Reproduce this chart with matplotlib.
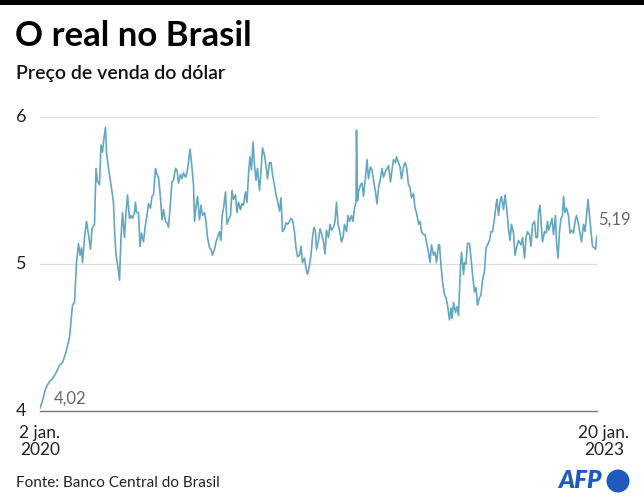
import matplotlib
matplotlib.use('Agg')
import matplotlib.pyplot as plt
import matplotlib.patches as mpatches
import matplotlib.transforms as mtransforms
import matplotlib.dates as mdates
import pandas as pd

plt.rcParams['font.family'] = ['Lato', 'DejaVu Sans']

# dollar sale price in reais
start = pd.Timestamp('2020-01-02')
end = pd.Timestamp('2023-01-20')

days = [0, 5, 12, 19, 25, 32, 39, 45, 52, 59, 62, 65, 69, 71, 73, 77, 80, 83, 85, 89,
        93, 97, 101, 104, 109, 112, 115, 119, 122, 125, 127, 131, 133, 137, 142, 147, 149, 152, 155, 159,
        162, 165, 169, 172, 175, 179, 182, 185, 189, 191, 193, 197, 200, 203, 207, 211, 214, 217, 221, 224,
        227, 231, 234, 237, 241, 244, 247, 251, 254, 257, 261, 264, 267, 271, 274, 277, 281, 284, 287, 291,
        294, 297, 300, 303, 307, 309, 312, 315, 319, 322, 325, 329, 332, 335, 339, 342, 345, 349, 352, 355,
        359, 362, 364, 367, 371, 374, 377, 381, 384, 387, 391, 394, 397, 401, 404, 407, 411, 414, 417, 420,
        423, 426, 429, 432, 435, 439, 442, 445, 449, 452, 455, 459, 462, 465, 469, 472, 475, 479, 482, 485,
        489, 492, 495, 499, 502, 505, 509, 512, 515, 519, 522, 525, 529, 532, 535, 539, 542, 545, 548, 551,
        553, 557, 560, 563, 567, 570, 573, 577, 580, 583, 587, 590, 593, 596, 599, 603, 606, 609, 613, 616,
        619, 623, 626, 629, 632, 633, 635, 637, 641, 644, 647, 651, 654, 657, 661, 664, 667, 671, 674, 677,
        681, 684, 687, 691, 694, 697, 701, 704, 707, 711, 713, 717, 720, 723, 727, 730, 733, 737, 740, 743,
        747, 750, 753, 757, 760, 763, 767, 770, 773, 777, 780, 783, 787, 790, 793, 797, 799, 802, 805, 809,
        812, 815, 819, 822, 824, 827, 831, 834, 837, 841, 843, 847, 849, 852, 855, 859, 862, 865, 869, 872,
        875, 879, 882, 885, 889, 892, 895, 899, 902, 905, 909, 912, 914, 917, 920, 923, 927, 930, 933, 937,
        940, 943, 947, 950, 953, 957, 962, 965, 969, 972, 975, 979, 982, 985, 989, 992, 995, 997, 1000, 1003,
        1005, 1009, 1012, 1015, 1017, 1021, 1024, 1027, 1031, 1033, 1036, 1039, 1042, 1045, 1047, 1050, 1053, 1057, 1060, 1063,
        1067, 1070, 1073, 1077, 1080, 1083, 1087, 1090, 1093, 1096, 1099, 1102, 1105, 1109, 1111, 1114]

usd_brl = [4.02, 4.07, 4.16, 4.20, 4.22, 4.26, 4.31, 4.33, 4.40, 4.50, 4.61, 4.72, 4.74, 4.88, 5.01, 5.14, 5.06, 5.11, 5.01, 5.18,
           5.29, 5.20, 5.10, 5.24, 5.27, 5.65, 5.56, 5.54, 5.81, 5.76, 5.83, 5.93, 5.76, 5.65, 5.54, 5.42, 5.24, 5.06, 5.00, 4.89,
           5.18, 5.35, 5.18, 5.35, 5.47, 5.31, 5.33, 5.31, 5.35, 5.42, 5.35, 5.35, 5.12, 5.21, 5.15, 5.27, 5.33, 5.41, 5.38, 5.46,
           5.47, 5.65, 5.61, 5.59, 5.45, 5.30, 5.37, 5.29, 5.28, 5.25, 5.42, 5.56, 5.57, 5.65, 5.64, 5.55, 5.61, 5.58, 5.62, 5.59,
           5.62, 5.69, 5.78, 5.69, 5.54, 5.29, 5.39, 5.46, 5.30, 5.40, 5.33, 5.35, 5.29, 5.18, 5.11, 5.10, 5.06, 5.10, 5.15, 5.18,
           5.22, 5.16, 5.32, 5.38, 5.49, 5.27, 5.30, 5.33, 5.50, 5.44, 5.47, 5.35, 5.42, 5.37, 5.41, 5.40, 5.49, 5.42, 5.61, 5.73,
           5.64, 5.83, 5.67, 5.57, 5.65, 5.50, 5.63, 5.79, 5.74, 5.67, 5.58, 5.69, 5.69, 5.61, 5.53, 5.47, 5.43, 5.36, 5.45, 5.22,
           5.24, 5.28, 5.27, 5.29, 5.31, 5.30, 5.22, 5.11, 5.05, 5.06, 5.12, 5.01, 5.04, 4.97, 4.93, 4.99, 5.06, 5.18, 5.25, 5.22,
           5.10, 5.16, 5.24, 5.21, 5.15, 5.07, 5.23, 5.18, 5.27, 5.23, 5.25, 5.29, 5.42, 5.27, 5.23, 5.15, 5.18, 5.27, 5.22, 5.33,
           5.29, 5.33, 5.29, 5.38, 5.42, 5.91, 5.43, 5.49, 5.54, 5.55, 5.46, 5.59, 5.71, 5.58, 5.66, 5.64, 5.57, 5.49, 5.41, 5.52,
           5.58, 5.65, 5.59, 5.63, 5.65, 5.67, 5.56, 5.64, 5.71, 5.69, 5.73, 5.69, 5.66, 5.58, 5.66, 5.69, 5.66, 5.54, 5.52, 5.45,
           5.48, 5.38, 5.35, 5.27, 5.29, 5.22, 5.20, 5.20, 5.15, 5.08, 5.01, 5.13, 5.06, 5.08, 5.01, 5.13, 5.13, 4.99, 4.88, 4.79,
           4.77, 4.72, 4.62, 4.70, 4.63, 4.74, 4.67, 4.71, 4.65, 4.99, 5.08, 4.93, 5.01, 5.00, 5.14, 5.14, 5.04, 4.93, 4.81, 4.84,
           4.72, 4.77, 4.79, 4.89, 4.95, 5.11, 5.13, 5.16, 5.22, 5.22, 5.31, 5.40, 5.44, 5.33, 5.42, 5.46, 5.37, 5.47, 5.39, 5.24,
           5.16, 5.27, 5.21, 5.06, 5.11, 5.16, 5.13, 5.18, 5.04, 5.18, 5.22, 5.20, 5.12, 5.27, 5.29, 5.18, 5.18, 5.35, 5.40, 5.24,
           5.15, 5.22, 5.21, 5.29, 5.23, 5.27, 5.31, 5.20, 5.33, 5.15, 5.04, 5.22, 5.31, 5.33, 5.46, 5.35, 5.38, 5.33, 5.21, 5.23,
           5.21, 5.29, 5.33, 5.27, 5.21, 5.15, 5.27, 5.22, 5.33, 5.44, 5.33, 5.22, 5.12, 5.11, 5.10, 5.19]

dates = start + pd.to_timedelta(days, unit='D')

fig = plt.figure(figsize=(6.44, 5.0), dpi=100)
ax = fig.add_axes([40 / 644, 1 - 411 / 500, 557 / 644, 294 / 500])

ax.plot(dates, usd_brl, color='#63a7c0', lw=1.2, zorder=3)

ax.set_xlim(start, end)
ax.set_ylim(4, 6)
ax.set_yticks([4, 5, 6])
ax.set_yticklabels(['4', '5', '6'])
ax.set_xticks([])
ax.tick_params(axis='y', length=0, pad=10, labelsize=13, labelcolor='#222222')
for t in ax.get_yticklabels():
    t.set_verticalalignment('center')
for s in ['top', 'right', 'left']:
    ax.spines[s].set_visible(False)
ax.spines['bottom'].set_color('#777777')
ax.spines['bottom'].set_linewidth(1.0)
for y in [5, 6]:
    ax.axhline(y, color='#dddddd', lw=0.9, zorder=1)

x0 = mdates.date2num(start)
x1 = mdates.date2num(end)

# first / last value labels
ax.annotate('4,02', (x0, usd_brl[0]), xytext=(10, 1), textcoords='offset points',
            fontsize=12, color='#666666', ha='left', va='bottom')
ax.annotate('5,19', (x1, usd_brl[-1]), xytext=(1, 6), textcoords='offset points',
            fontsize=12, color='#666666', ha='left', va='bottom')

# date labels under the axis
trans = mtransforms.blended_transform_factory(ax.transData, ax.transAxes)
ax.annotate('2 jan.\n2020', (x0, 0), xycoords=trans, xytext=(0, -10), textcoords='offset points',
            ha='center', va='top', fontsize=12.5, color='#222222', linespacing=1.1)
ax.annotate('20 jan.\n2023', (x1, 0), xycoords=trans, xytext=(5, -10), textcoords='offset points',
            ha='center', va='top', fontsize=12.5, color='#222222', linespacing=1.1)

# header
fig.add_artist(mpatches.Rectangle((0, 495 / 500), 1, 5 / 500, transform=fig.transFigure,
                                  color='black', lw=0))
fig.text(15 / 644, 1 - 36 / 500, 'O real no Brasil', fontsize=25, fontweight='bold',
         ha='left', va='center', color='black')
fig.text(16 / 644, 1 - 74 / 500, 'Preço de venda do dólar', fontsize=14, fontweight='semibold',
         ha='left', va='center', color='#111111')

# footer
fig.text(16 / 644, 1 - 483 / 500, 'Fonte: Banco Central do Brasil', fontsize=11,
         ha='left', va='center', color='#222222')
fig.text(558 / 644, 1 - 481 / 500, 'AFP', fontsize=17.5, fontweight='heavy', style='italic',
         ha='left', va='center', color='#1f5bbf')
fig.add_artist(mpatches.Ellipse((618 / 644, 1 - 481 / 500), 23 / 644, 23 / 500,
                                transform=fig.transFigure, color='#1f5bbf', lw=0))

fig.savefig('out.png', dpi=100)
